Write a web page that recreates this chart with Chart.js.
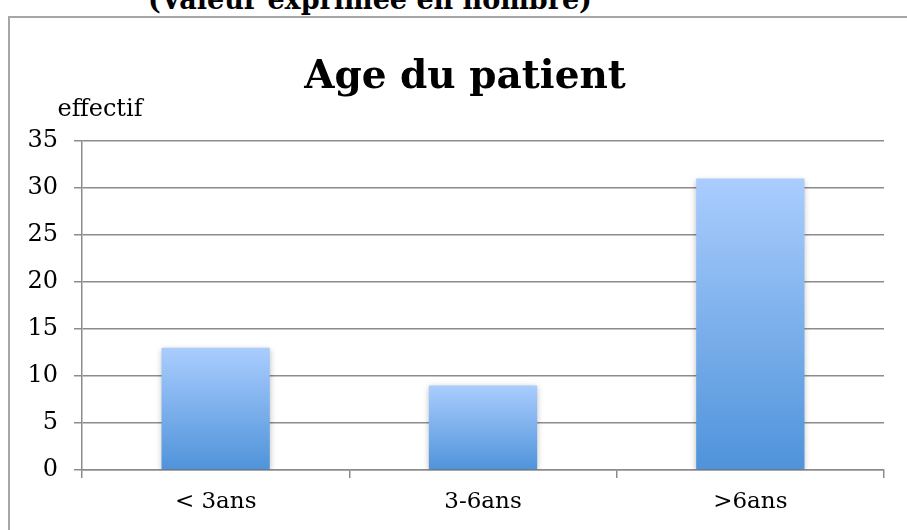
<!DOCTYPE html>
<html>
<head>
<meta charset="utf-8">
<script src="https://cdn.jsdelivr.net/npm/chart.js@4"></script>
<style>
  body { margin: 0; background: #fff; overflow: hidden; }
  #wrap { position: relative; width: 907px; height: 530px; }
  #frame { position: absolute; left: 8px; top: 16px; width: 950px; height: 600px; border: 2px solid #a6a6a6; }
  #above { position: absolute; left: 148px; top: -13px; font: bold 27px "DejaVu Serif"; line-height: 26px; white-space: nowrap; color: #000; }
  canvas { position: absolute; left: 0; top: 0; }
</style>
</head>
<body>
<div id="wrap">
  <div id="above">(Valeur exprimée en nombre)</div>
  <div id="frame"></div>
  <canvas id="ageChart" width="907" height="530"></canvas>
</div>
<script>
// data
const categories = ["< 3ans", "3-6ans", ">6ans"];
const effectifs = [13, 9, 31];
const yTicks = [0, 5, 10, 15, 20, 25, 30, 35];

const chartTitle = "Age du patient";
const yLabel = "effectif";

// gradient per bar, light on top, darker at the base
function barGradient(context) {
  const chart = context.chart;
  if (!chart.chartArea || !chart.scales.y) return "#7fb0ea";
  const yScale = chart.scales.y;
  const top = yScale.getPixelForValue(context.raw);
  const bottom = yScale.getPixelForValue(0);
  const g = chart.ctx.createLinearGradient(0, top, 0, bottom);
  g.addColorStop(0, "#aacdfe");
  g.addColorStop(1, "#4f93da");
  return g;
}

const barShadow = {
  id: "barShadow",
  beforeDatasetsDraw(chart) {
    const ctx = chart.ctx;
    ctx.save();
    ctx.shadowColor = "rgba(0,0,0,0.28)";
    ctx.shadowBlur = 6;
    ctx.shadowOffsetY = 2;
  },
  afterDatasetsDraw(chart) {
    chart.ctx.restore();
  }
};

// title sits a bit right of the canvas centre, "effectif" above the y axis
const headerText = {
  id: "headerText",
  afterDraw(chart) {
    const ctx = chart.ctx;
    const area = chart.chartArea;
    ctx.save();
    ctx.fillStyle = "#000";
    ctx.textAlign = "center";
    ctx.textBaseline = "middle";
    ctx.font = "bold 39px 'DejaVu Serif'";
    ctx.fillText(chartTitle, 465, area.top - 63);
    ctx.font = "24px 'DejaVu Serif'";
    ctx.fillText(yLabel, area.left + 18, area.top - 31);
    ctx.restore();
  }
};

const ctx = document.getElementById("ageChart").getContext("2d");
new Chart(ctx, {
  type: "bar",
  data: {
    labels: categories,
    datasets: [{
      label: yLabel,
      data: effectifs,
      backgroundColor: barGradient,
      borderWidth: 0,
      barPercentage: 0.405,
      categoryPercentage: 1
    }]
  },
  options: {
    responsive: false,
    animation: false,
    layout: { padding: { left: 0, right: 23, top: 141, bottom: 0 } },
    plugins: {
      legend: { display: false },
      tooltip: { enabled: false },
      title: { display: false }
    },
    scales: {
      x: {
        grid: { display: true, drawOnChartArea: false, offset: true, color: "#8c8c8c", lineWidth: 1.5, tickLength: 8 },
        border: { display: true, color: "#8c8c8c", width: 1.5 },
        ticks: { color: "#000", font: { family: "DejaVu Serif", size: 23 }, padding: 10, maxRotation: 0 },
        afterFit(scale) { scale.height = 60; }
      },
      y: {
        min: 0,
        max: 35,
        afterBuildTicks(scale) { scale.ticks = yTicks.map(v => ({ value: v })); },
        grid: { color: "#8c8c8c", lineWidth: 1.5, tickLength: 8 },
        border: { display: true, color: "#8c8c8c", width: 1.5 },
        ticks: { color: "#000", font: { family: "DejaVu Serif", size: 24 }, padding: 16 },
        afterFit(scale) { scale.width = 82; }
      }
    }
  },
  plugins: [barShadow, headerText]
});
</script>
</body>
</html>
